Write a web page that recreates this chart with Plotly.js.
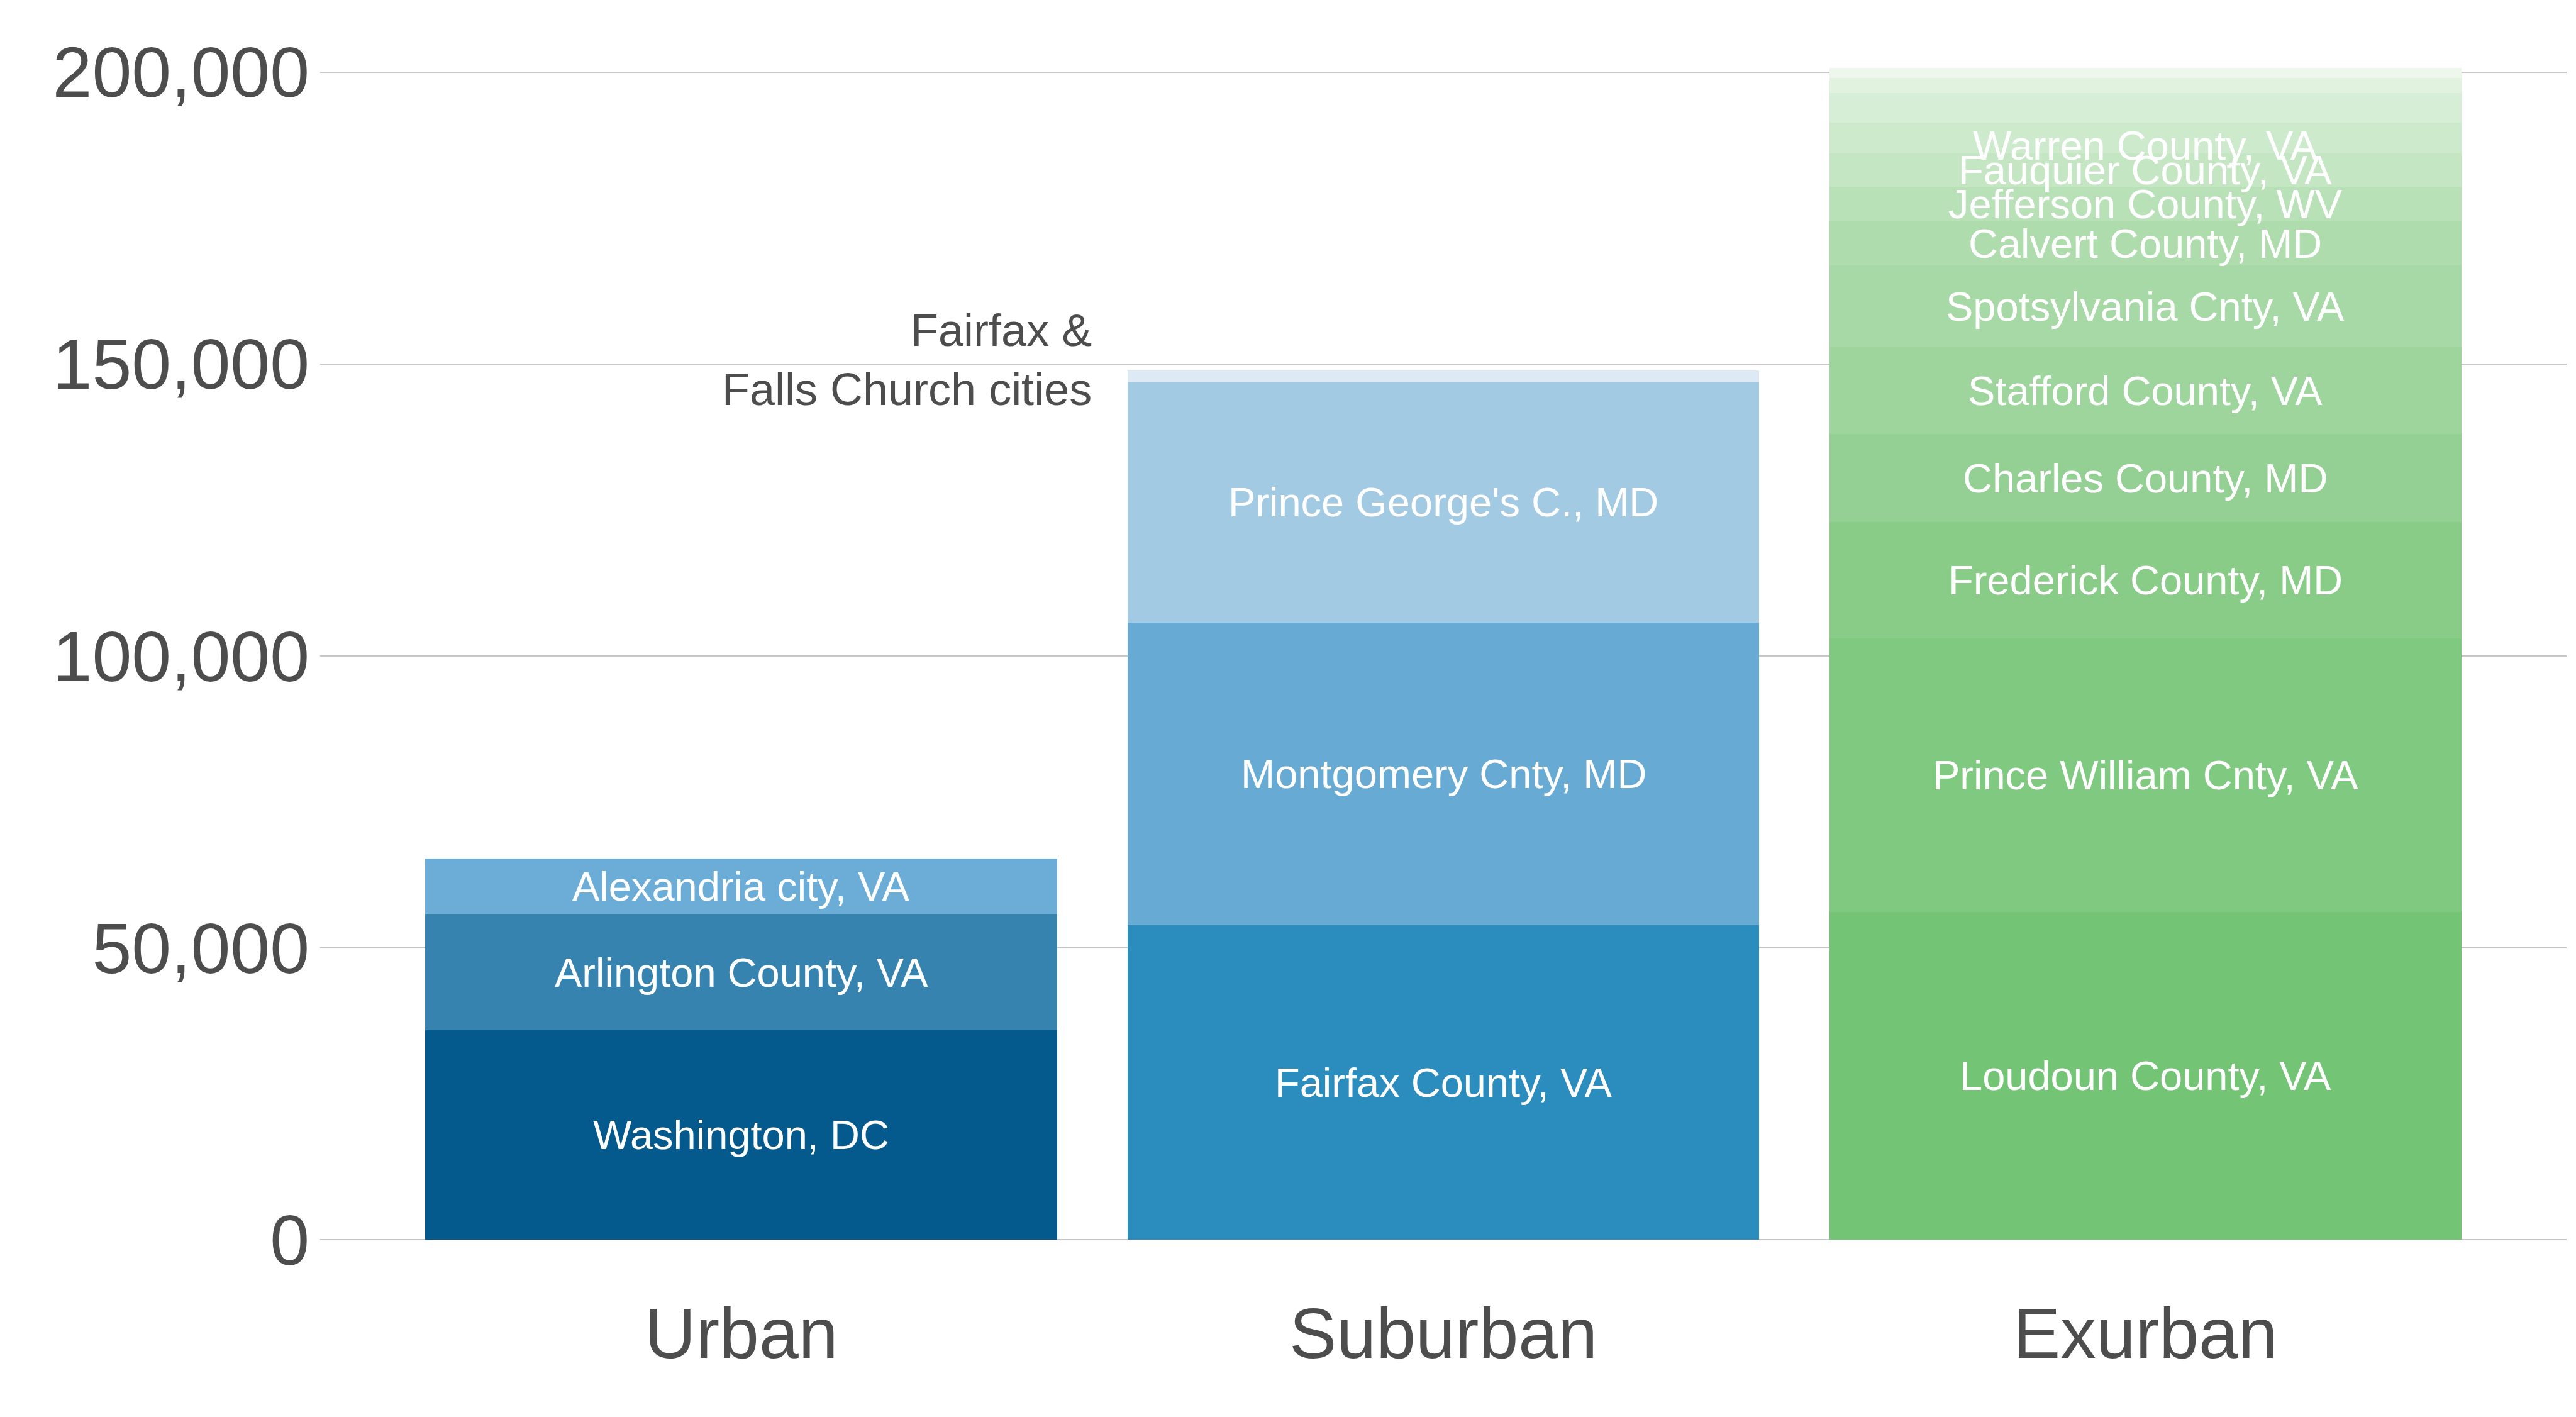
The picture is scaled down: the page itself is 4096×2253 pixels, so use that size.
<!DOCTYPE html>
<html><head><meta charset="utf-8">
<script src="https://cdn.plot.ly/plotly-3.0.1.min.js"></script>
<style>html,body{margin:0;padding:0;background:#fff;} #chart{width:4096px;height:2253px;}</style>
</head><body><div id="chart"></div>
<script>
// ---- data ----
const categories = ['Urban', 'Suburban', 'Exurban'];

const urbanLabels = ['Washington, DC', 'Arlington County, VA', 'Alexandria city, VA'];
const urbanValues = [35900, 19800, 9600];

const suburbanLabels = ['Fairfax County, VA', 'Montgomery Cnty, MD', "Prince George's C., MD", ''];
const suburbanValues = [53900, 51800, 41200, 2000];

const exurbanLabels = ['Loudoun County, VA', 'Prince William Cnty, VA', 'Frederick County, MD',
  'Charles County, MD', 'Stafford County, VA', 'Spotsylvania Cnty, VA', 'Calvert County, MD',
  'Jefferson County, WV', 'Fauquier County, VA', 'Warren County, VA', '', '', ''];
const exurbanValues = [56200, 46800, 19900, 15100, 14900, 14000, 7500, 6000, 5700, 5300, 5000, 2650, 1700];

const yTickValues = [0, 50000, 100000, 150000, 200000];
const sideNote = 'Fairfax &<br>Falls Church cities';

// ---- styles ----
const urbanColors = ['#045A8D', '#3783B0', '#6BADD6'];
const suburbanColors = ['#2B8CBE', '#67AAD3', '#A3CAE3', '#DDEAF5'];
const exurbanColors = ['#74C476', '#80C980', '#89CC88', '#94D094', '#9DD59D', '#A7D9A6',
  '#AEDCAD', '#B9E1B8', '#C4E6C3', '#CDEACC', '#D6EED5', '#E1F2DF', '#EDF7EB'];
const FONT = 'Liberation Sans, Arial, Helvetica, sans-serif';
const GREY = '#4D4D4D';
const barWidth = 0.9;

const groups = [
  {cat: categories[0], labels: urbanLabels, values: urbanValues, colors: urbanColors},
  {cat: categories[1], labels: suburbanLabels, values: suburbanValues, colors: suburbanColors},
  {cat: categories[2], labels: exurbanLabels, values: exurbanValues, colors: exurbanColors}
];

const traces = [];
const annotations = [];
groups.forEach(g => {
  let base = 0;
  g.values.forEach((v, i) => {
    traces.push({
      type: 'bar', x: [g.cat], y: [v], width: barWidth,
      marker: {color: g.colors[i], line: {width: 0}},
      hoverinfo: 'skip', showlegend: false
    });
    if (g.labels[i]) {
      annotations.push({
        x: g.cat, y: base + v / 2, xref: 'x', yref: 'y', text: g.labels[i],
        showarrow: false, xanchor: 'center', yanchor: 'middle',
        yshift: g.labels[i] === 'Warren County, VA' ? -12 : 0,
        font: {family: FONT, size: 65, color: '#FFFFFF'}
      });
    }
    base += v;
  });
});

const suburbanTotal = suburbanValues.reduce((a, b) => a + b, 0);
annotations.push({
  x: 1 - barWidth / 2, y: suburbanTotal, xref: 'x', yref: 'y',
  text: sideNote, showarrow: false, xanchor: 'right', yanchor: 'middle',
  align: 'right', xshift: -55, yshift: 17,
  font: {family: FONT, size: 72, color: GREY}
});

const layout = {
  width: 4096, height: 2253,
  margin: {l: 509, r: 15, t: 22, b: 189, pad: 0},
  paper_bgcolor: '#FFFFFF', plot_bgcolor: '#FFFFFF',
  barmode: 'stack', showlegend: false,
  font: {family: FONT, color: GREY},
  xaxis: {
    type: 'category', categoryorder: 'array', categoryarray: categories,
    range: [-0.6, 2.6], showgrid: false, zeroline: false, showline: false,
    ticks: '', automargin: false, ticklabelstandoff: -19,
    tickfont: {family: FONT, size: 113, color: GREY}
  },
  yaxis: {
    range: [-10000, 210000], tickvals: yTickValues, tickformat: ',d',
    showgrid: true, gridcolor: '#C6C6C6', gridwidth: 1.4,
    zeroline: false, showline: false, ticks: '', automargin: false,
    ticklabelstandoff: 16,
    tickfont: {family: FONT, size: 113, color: GREY}
  },
  annotations: annotations
};

Plotly.newPlot('chart', traces, layout, {displayModeBar: false, staticPlot: true});
</script>
</body></html>
